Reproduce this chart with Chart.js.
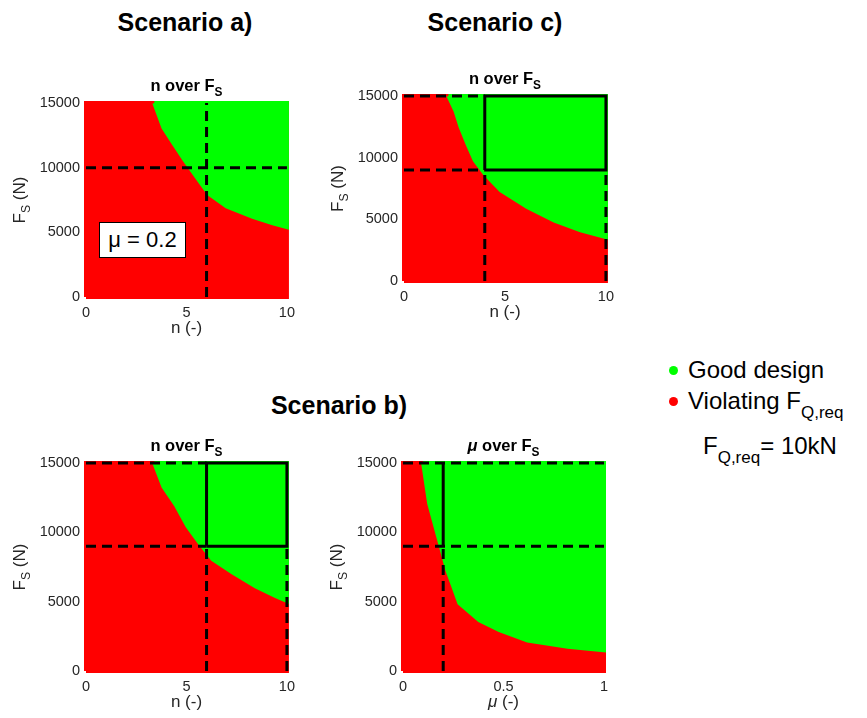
<!DOCTYPE html>
<html>
<head>
<meta charset="utf-8">
<script src="https://cdn.jsdelivr.net/npm/chart.js@4.4.0/dist/chart.umd.min.js"></script>
<style>
  body { margin: 0; background: #fff; font-family: "Liberation Sans", Arial, sans-serif; }
  #fig { position: relative; width: 867px; height: 718px; overflow: hidden; }
  canvas { position: absolute; }
  .big { position: absolute; font-weight: bold; font-size: 25px; line-height: 30px;
         transform: translate(-50%, -50%); white-space: nowrap; color: #000; }
  .txt { position: absolute; font-size: 24px; line-height: 28px; white-space: nowrap; color: #000; }
  .txt sub { font-size: 17px; vertical-align: baseline; position: relative; top: 9px; }
  .dot { position: absolute; width: 9px; height: 9px; border-radius: 50%; }
  .mubox { position: absolute; left: 99px; top: 222px; width: 87px; height: 36px; box-sizing: border-box;
           border: 1.5px solid #000; background: #fff; font-size: 22px; line-height: 33px; text-align: center; }
</style>
</head>
<body>
<div id="fig">
  <canvas id="pa"></canvas>
  <canvas id="pc"></canvas>
  <canvas id="pb1"></canvas>
  <canvas id="pb2"></canvas>

  <div class="big" style="left:185px;top:22px">Scenario a)</div>
  <div class="big" style="left:495px;top:22px">Scenario c)</div>
  <div class="big" style="left:339px;top:405px">Scenario b)</div>

  <div class="mubox">&mu; = 0.2</div>

  <span class="dot" style="left:669px;top:366px;background:#00ff00"></span>
  <div class="txt" style="left:688px;top:356px">Good design</div>
  <span class="dot" style="left:669px;top:397px;background:#ff0000"></span>
  <div class="txt" style="left:688px;top:387px">Violating F<sub>Q,req</sub></div>
  <div class="txt" style="left:703px;top:432px">F<sub>Q,req</sub>= 10kN</div>
</div>

<script>
// tick labels
const N_TICKS = [0, 5, 10];
const MU_TICKS = [0, 0.5, 1];
const FS_TICKS = [0, 5000, 10000, 15000];
const FS_MAX = 15000;

// boundary between good designs (above) and violating ones (below)
const A_N  = [3.4, 3.85, 4.35, 4.9, 5.5, 6.1, 7.0, 8.3, 9.3, 10];
const A_FS = [15000, 13100, 11900, 10600, 9300, 8000, 7000, 6200, 5700, 5400];

const C_N  = [2.2, 2.55, 2.8, 3.15, 3.5, 4.0, 4.8, 6.1, 7.45, 8.75, 10];
const C_FS = [15000, 13800, 12500, 11100, 9800, 8700, 7350, 6000, 4900, 4100, 3550];

const B1_N  = [3.4, 3.85, 4.5, 5.05, 5.65, 6.3, 7.3, 8.45, 9.45, 10];
const B1_FS = [15000, 13300, 11900, 10450, 9250, 8050, 7100, 6100, 5400, 5050];

const B2_MU = [0.1, 0.13, 0.175, 0.22, 0.25, 0.28, 0.38, 0.48, 0.62, 0.82, 1.0];
const B2_FS = [15000, 12100, 9700, 7300, 6100, 4900, 3650, 2950, 2200, 1750, 1500];

// requirement lines [x, y] polylines
const A_DASHED = [[[6, 0], [6, 15000]], [[0, 10000], [10, 10000]]];
const A_SOLID = [];

const C_DASHED = [[[0, 15000], [4, 15000]], [[0, 9000], [4, 9000]], [[4, 0], [4, 9000]], [[10, 0], [10, 9000]]];
const C_SOLID = [[[4, 9000], [10, 9000], [10, 15000], [4, 15000], [4, 9000]]];

const B1_DASHED = [[[0, 15000], [6, 15000]], [[0, 9000], [6, 9000]], [[6, 0], [6, 9000]], [[10, 0], [10, 9000]]];
const B1_SOLID = [[[6, 9000], [10, 9000], [10, 15000], [6, 15000], [6, 9000]]];

const B2_DASHED = [[[0, 15000], [1, 15000]], [[0, 9000], [1, 9000]], [[0.2, 0], [0.2, 9000]]];
const B2_SOLID = [[[0.2, 9000], [0.2, 15000]]];

const FONT = '"Liberation Sans", Arial, sans-serif';
const GREEN = '#00ff00';
const RED = '#ff0000';

const PANELS = [
  { id: 'pa', left: 86, top: 103, w: 201, h: 194, xMax: 10, xTicks: N_TICKS, sym: 'n', italic: false,
    bx: A_N, by: A_FS, dashed: A_DASHED, solid: A_SOLID },
  { id: 'pc', left: 404, top: 96, w: 202, h: 185, xMax: 10, xTicks: N_TICKS, sym: 'n', italic: false,
    bx: C_N, by: C_FS, dashed: C_DASHED, solid: C_SOLID },
  { id: 'pb1', left: 86, top: 463, w: 201, h: 208, xMax: 10, xTicks: N_TICKS, sym: 'n', italic: false,
    bx: B1_N, by: B1_FS, dashed: B1_DASHED, solid: B1_SOLID },
  { id: 'pb2', left: 403, top: 463, w: 201, h: 208, xMax: 1, xTicks: MU_TICKS, sym: '\u03bc', italic: true,
    bx: B2_MU, by: B2_FS, dashed: B2_DASHED, solid: B2_SOLID },
];

const PAD_L = 80, PAD_T = 40, PAD_R = 15, PAD_B = 60;

// text with subscripts, centred on cx
function drawRich(ctx, parts, cx, y, size, weight) {
  const fontOf = (p) => `${p.italic ? 'italic ' : ''}${weight} ${p.sub ? size * 0.72 : size}px ${FONT}`;
  let total = 0;
  parts.forEach((p) => { ctx.font = fontOf(p); total += ctx.measureText(p.t).width; });
  let x = cx - total / 2;
  ctx.textAlign = 'left';
  ctx.textBaseline = 'alphabetic';
  parts.forEach((p) => {
    ctx.font = fontOf(p);
    ctx.fillText(p.t, x, p.sub ? y + size * 0.32 : y);
    x += ctx.measureText(p.t).width;
  });
}

const panelText = {
  id: 'panelText',
  afterDraw(chart, args, o) {
    const { ctx, chartArea: a } = chart;
    const cx = (a.left + a.right) / 2;
    const cy = (a.top + a.bottom) / 2;
    ctx.save();
    ctx.fillStyle = '#000';
    drawRich(ctx, [{ t: o.sym, italic: o.italic }, { t: ' over F' }, { t: 'S', sub: true }], cx, a.top - 12, 16.5, 'bold');
    ctx.fillStyle = '#262626';
    drawRich(ctx, [{ t: o.sym, italic: o.italic }, { t: ' (-)' }], cx, a.bottom + 36, 17, 'normal');
    ctx.translate(a.left - 66, cy);
    ctx.rotate(-Math.PI / 2);
    drawRich(ctx, [{ t: 'F' }, { t: 'S', sub: true }, { t: ' (N)' }], 0, 5, 17, 'normal');
    ctx.restore();
  },
};

function lineSet(pts, dashed) {
  return {
    data: pts.map(([x, y]) => ({ x, y })),
    borderColor: '#000', borderWidth: 3, borderDash: dashed ? [10, 6] : [],
    pointRadius: 0, fill: false, clip: false, order: 0,
  };
}

function montar(p) {
  const canvas = document.getElementById(p.id);
  canvas.width = p.w + PAD_L + PAD_R;
  canvas.height = p.h + PAD_T + PAD_B;
  canvas.style.left = (p.left - PAD_L) + 'px';
  canvas.style.top = (p.top - PAD_T) + 'px';

  const square = [[0, 0], [0, FS_MAX], [p.xMax, FS_MAX], [p.xMax, 0], [0, 0]];
  const good = p.bx.map((x, i) => [x, p.by[i]]);
  good.push([p.xMax, FS_MAX], [p.bx[0], p.by[0]]);

  const datasets = [
    { data: square.map(([x, y]) => ({ x, y })), backgroundColor: RED, borderColor: RED, borderWidth: 4,
      pointRadius: 0, fill: 'shape', clip: false, order: 2 },
    { data: good.map(([x, y]) => ({ x, y })), backgroundColor: GREEN, borderColor: GREEN, borderWidth: 4,
      pointRadius: 0, fill: 'shape', clip: false, order: 1 },
    ...p.dashed.map((s) => lineSet(s, true)),
    ...p.solid.map((s) => lineSet(s, false)),
  ];

  const tickFont = { family: FONT, size: 14.5 };
  return new Chart(canvas, {
    type: 'line',
    data: { datasets },
    plugins: [panelText],
    options: {
      responsive: false,
      animation: false,
      devicePixelRatio: 1,
      layout: { padding: { top: PAD_T, right: PAD_R, left: 0, bottom: 0 } },
      plugins: {
        legend: { display: false },
        tooltip: { enabled: false },
        panelText: { sym: p.sym, italic: p.italic },
      },
      scales: {
        x: {
          type: 'linear', min: 0, max: p.xMax,
          grid: { display: false, drawTicks: false },
          border: { display: true, color: '#8c8c8c', width: 1 },
          ticks: { padding: 7, color: '#262626', font: tickFont, maxRotation: 0, autoSkip: false,
                   callback: (v) => String(v) },
          afterBuildTicks: (s) => { s.ticks = p.xTicks.map((v) => ({ value: v })); },
          afterFit: (s) => { s.height = PAD_B; },
        },
        y: {
          type: 'linear', min: 0, max: FS_MAX,
          grid: { display: false, drawTicks: false },
          border: { display: true, color: '#8c8c8c', width: 1 },
          ticks: { padding: 6, color: '#262626', font: tickFont, autoSkip: false,
                   callback: (v) => String(v) },
          afterBuildTicks: (s) => { s.ticks = FS_TICKS.map((v) => ({ value: v })); },
          afterFit: (s) => { s.width = PAD_L; },
        },
      },
    },
  });
}

PANELS.forEach(montar);
</script>
</body>
</html>
